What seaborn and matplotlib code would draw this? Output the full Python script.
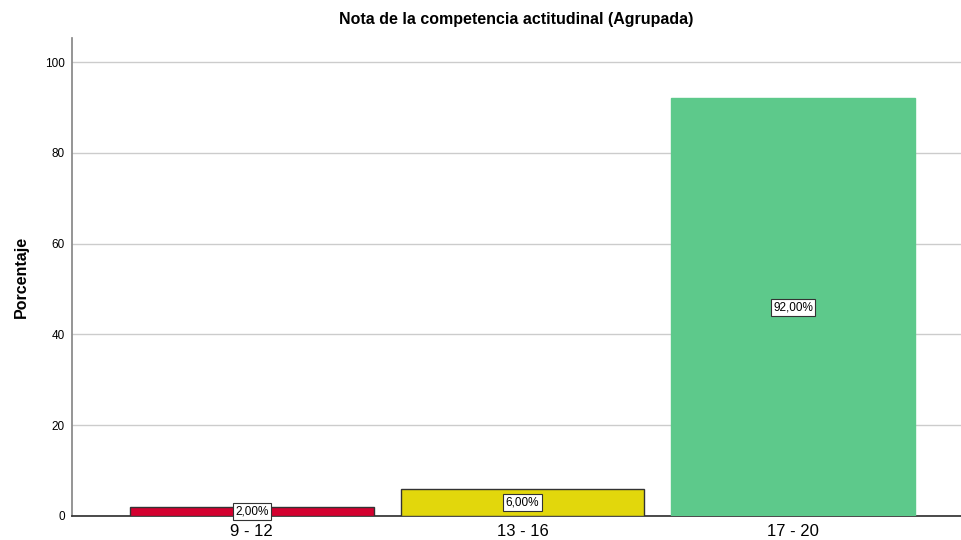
import matplotlib
matplotlib.use("Agg")
import matplotlib.pyplot as plt
import seaborn as sns
import pandas as pd

categories = ["9 - 12", "13 - 16", "17 - 20"]
values = [2.0, 6.0, 92.0]
labels = ["2,00%", "6,00%", "92,00%"]
colors = ["#D3002F", "#E2D70C", "#5DC98B"]
edges = ["#333333", "#333333", "#5DC98B"]

sns.set_theme(style="white")
plt.rcParams['font.family'] = ['Liberation Sans', 'DejaVu Sans']
plt.rcParams['text.color'] = 'black'
plt.rcParams['axes.labelcolor'] = 'black'
plt.rcParams['xtick.color'] = 'black'
plt.rcParams['ytick.color'] = 'black'

fig = plt.figure(figsize=(9.61, 5.40), dpi=100)
ax = fig.add_axes([72/961, 24/540, (961-72)/961, (516-38)/540])

df = pd.DataFrame({"cat": categories, "val": values})
sns.barplot(data=df, x="cat", y="val", hue="cat", palette=colors, legend=False,
            width=0.9, saturation=1, ax=ax, zorder=3)
for p, ec in zip(ax.patches, edges):
    p.set_edgecolor(ec)
    p.set_linewidth(1.0)

for i, (v, lab) in enumerate(zip(values, labels)):
    ax.text(i, v / 2, lab, ha="center", va="center", fontsize=8.5, zorder=5,
            bbox=dict(boxstyle="square,pad=0.2", fc="white", ec="#333333", lw=0.8))

ax.set_xlim(-0.664, 2.62)
ax.set_ylim(0, 105.3)
ax.set_yticks([0, 20, 40, 60, 80, 100])
ax.yaxis.grid(True, color="#CCCCCC", linewidth=1.0, zorder=0)
ax.set_axisbelow(True)
for s in ["top", "right"]:
    ax.spines[s].set_visible(False)
ax.spines["left"].set_color("#888888")
ax.spines["bottom"].set_color("#333333")
ax.tick_params(axis="y", labelsize=8.5, length=0, pad=5)
ax.tick_params(axis="x", labelsize=12, length=0, pad=6)
ax.set_xlabel("")
ax.set_ylabel("Porcentaje", fontsize=11.5, fontweight="bold", labelpad=12)
ax.set_title("Nota de la competencia actitudinal (Agrupada)", fontsize=11.5,
             fontweight="bold", pad=10)

fig.savefig("out.png", dpi=100)
